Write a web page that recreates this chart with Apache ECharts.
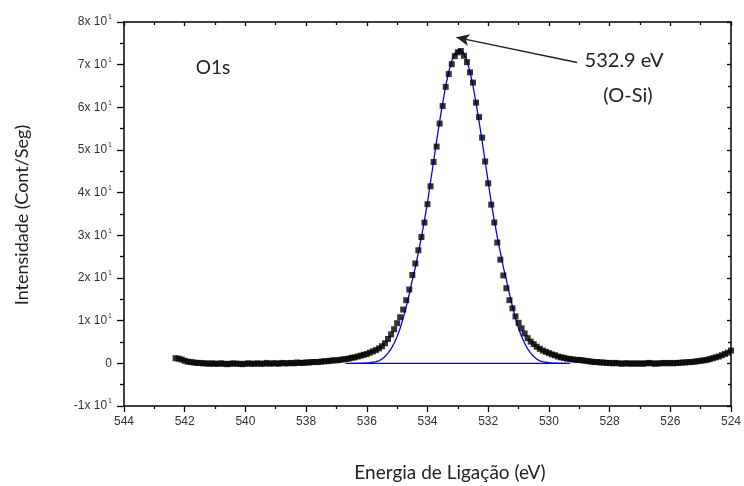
<!DOCTYPE html>
<html><head><meta charset="utf-8">
<script src="https://cdn.jsdelivr.net/npm/echarts@6/dist/echarts.min.js"></script>
<style>html,body{margin:0;padding:0;background:#fff}#c{width:744px;height:486px}</style>
</head><body><div id="c"></div>
<script>
// Measured spectrum (binding energy in eV, intensity in units of 10 cont/s)
const energyEV = [
  542.3,542.2,542.1,542.0,541.9,541.8,541.7,541.6,541.5,541.4,
  541.3,541.2,541.1,541.0,540.9,540.8,540.7,540.6,540.5,540.4,
  540.3,540.2,540.1,540.0,539.9,539.8,539.7,539.6,539.5,539.4,
  539.3,539.2,539.1,539.0,538.9,538.8,538.7,538.6,538.5,538.4,
  538.3,538.2,538.1,538.0,537.9,537.8,537.7,537.6,537.5,537.4,
  537.3,537.2,537.1,537.0,536.9,536.8,536.7,536.6,536.5,536.4,
  536.3,536.2,536.1,536.0,535.9,535.8,535.7,535.6,535.5,535.4,
  535.3,535.2,535.1,535.0,534.9,534.8,534.7,534.6,534.5,534.4,
  534.3,534.2,534.1,534.0,533.9,533.8,533.7,533.6,533.5,533.4,
  533.3,533.2,533.1,533.0,532.9,532.8,532.7,532.6,532.5,532.4,
  532.3,532.2,532.1,532.0,531.9,531.8,531.7,531.6,531.5,531.4,
  531.3,531.2,531.1,531.0,530.9,530.8,530.7,530.6,530.5,530.4,
  530.3,530.2,530.1,530.0,529.9,529.8,529.7,529.6,529.5,529.4,
  529.3,529.2,529.1,529.0,528.9,528.8,528.7,528.6,528.5,528.4,
  528.3,528.2,528.1,528.0,527.9,527.8,527.7,527.6,527.5,527.4,
  527.3,527.2,527.1,527.0,526.9,526.8,526.7,526.6,526.5,526.4,
  526.3,526.2,526.1,526.0,525.9,525.8,525.7,525.6,525.5,525.4,
  525.3,525.2,525.1,525.0,524.9,524.8,524.7,524.6,524.5,524.4,
  524.3,524.2,524.1,524.0
];
const intensity = [
  1.2,1.1,0.9,0.6,0.4,0.3,0.2,0.1,0.1,0.0,
  0.0,-0.1,0.0,-0.1,-0.1,0.0,-0.1,-0.2,-0.1,0.0,
  -0.1,-0.1,-0.2,-0.1,0.0,-0.1,-0.1,0.0,-0.1,-0.1,
  0.1,-0.1,0.0,0.0,-0.1,0.1,0.0,0.0,0.1,0.0,
  0.2,0.1,0.1,0.2,0.2,0.3,0.3,0.3,0.4,0.5,
  0.5,0.6,0.7,0.7,0.8,0.9,1.0,1.1,1.3,1.4,
  1.6,1.8,2.0,2.2,2.5,2.8,3.1,3.5,4.0,4.7,
  5.7,6.8,8.0,9.4,10.8,12.6,14.8,17.3,20.7,23.4,
  26.5,29.6,33.0,37.3,41.5,47.2,50.8,56.2,60.3,64.8,
  67.8,70.1,72.0,72.9,73.2,72.1,70.6,68.2,65.8,61.1,
  57.7,52.9,47.3,42.2,37.2,33.0,28.3,24.3,20.6,17.6,
  14.8,12.9,11.0,9.5,8.2,7.0,5.9,5.1,4.5,3.9,
  3.4,3.0,2.7,2.4,2.1,1.9,1.6,1.4,1.3,1.1,
  1.0,0.9,0.8,0.8,0.7,0.6,0.5,0.4,0.3,0.3,
  0.2,0.2,0.1,0.1,0.0,0.1,0.0,-0.1,0.0,0.0,
  -0.1,0.0,-0.1,0.0,-0.1,0.0,0.1,0.0,-0.1,0.0,
  0.0,0.1,0.0,0.1,0.0,0.1,0.1,0.2,0.2,0.3,
  0.3,0.4,0.5,0.6,0.7,0.8,1.0,1.2,1.4,1.6,
  1.9,2.2,2.5,3.0
];
// Fitted O1s component (blue)
const fitEnergy = [
  536.5,536.4,536.3,536.2,536.1,536.0,535.9,535.8,535.7,535.6,
  535.5,535.4,535.3,535.2,535.1,535.0,534.9,534.8,534.7,534.6,
  534.5,534.4,534.3,534.2,534.1,534.0,533.9,533.8,533.7,533.6,
  533.5,533.4,533.3,533.2,533.1,533.0,532.9,532.8,532.7,532.6,
  532.5,532.4,532.3,532.2,532.1,532.0,531.9,531.8,531.7,531.6,
  531.5,531.4,531.3,531.2,531.1,531.0,530.9,530.8,530.7,530.6,
  530.5,530.4,530.3,530.2,530.1,530.0,529.9,529.8,529.7,529.6,
  529.5,529.4
];
const fitIntensity = [
  0,0,0.01,0.02,0.04,0.08,0.15,0.25,0.4,0.6,
  1.0,1.6,2.4,3.4,4.7,6.3,8.2,10.6,13.3,16.3,
  19.5,22.5,26.0,29.6,33.5,37.7,42.5,47.3,52.1,56.7,
  61.0,65.0,68.3,70.9,72.6,73.4,73.4,72.6,70.9,68.3,
  65.0,61.0,56.7,52.1,47.3,42.5,37.7,33.5,29.6,26.0,
  22.5,19.5,16.3,13.3,10.6,8.2,6.3,4.7,3.4,2.4,
  1.6,1.0,0.6,0.4,0.25,0.15,0.08,0.04,0.02,0.01,
  0,0
];
const baselineEnergy = [536.7, 529.3];
const baselineIntensity = [0, 0];
const peakLabel = ['532.9 eV', '(O-Si)'];
const arrowTail = [529.07, 70.5];
const arrowTip = [533.05, 76.4];

const zip = (a, b) => a.map((v, i) => [v, b[i]]);
const chart = echarts.init(document.getElementById('c'), null, {renderer: 'canvas'});
const axisBlack = {onZero: false, lineStyle: {color: '#000', width: 1.5}};
const xBase = {type: 'value', min: 524, max: 544, interval: 2, inverse: true, splitLine: {show: false}};
const yBase = {type: 'value', min: -10, max: 80, interval: 10, splitLine: {show: false}};
chart.setOption({
  animation: false,
  backgroundColor: '#fff',
  grid: {left: 124, right: 11, top: 22, bottom: 80, containLabel: false},
  xAxis: [
    Object.assign({}, xBase, {
      position: 'bottom', axisLine: axisBlack,
      axisTick: {length: 6, lineStyle: {color: '#000', width: 1.3}},
      minorTick: {show: true, splitNumber: 2, length: 3, lineStyle: {color: '#000', width: 1.3}},
      axisLabel: {fontFamily: 'Liberation Sans', fontSize: 12, color: '#333', margin: 10}
    }),
    Object.assign({}, xBase, {
      position: 'top', axisLine: axisBlack,
      axisTick: {inside: true, length: 4, lineStyle: {color: '#000', width: 1.3}},
      minorTick: {show: true, splitNumber: 2, length: 3, lineStyle: {color: '#000', width: 1.3}},
      axisLabel: {show: false}
    })
  ],
  yAxis: [
    Object.assign({}, yBase, {
      position: 'left', axisLine: axisBlack,
      axisTick: {length: 7, lineStyle: {color: '#000', width: 1.3}},
      minorTick: {show: true, splitNumber: 2, length: 4, lineStyle: {color: '#000', width: 1.3}},
      axisLabel: {
        margin: 12,
        formatter: v => v === 0 ? '{m|0}' : '{m|' + (v / 10) + 'x 10}{s|1}',
        rich: {
          m: {fontFamily: 'Liberation Sans', fontSize: 12, color: '#333'},
          s: {fontFamily: 'Liberation Sans', fontSize: 7, color: '#333', padding: [0, 0, 9, 1]}
        }
      }
    }),
    Object.assign({}, yBase, {
      position: 'right', axisLine: axisBlack,
      axisTick: {inside: true, length: 4, lineStyle: {color: '#000', width: 1.3}},
      minorTick: {show: true, splitNumber: 2, length: 3, lineStyle: {color: '#000', width: 1.3}},
      axisLabel: {show: false}
    })
  ],
  series: [
    {
      name: 'fit', type: 'line', xAxisIndex: 0, yAxisIndex: 0, z: 2,
      data: zip(fitEnergy, fitIntensity), showSymbol: false, symbol: 'none',
      lineStyle: {color: '#0000ff', width: 1.3}
    },
    {
      name: 'baseline', type: 'line', xAxisIndex: 0, yAxisIndex: 0, z: 2,
      data: zip(baselineEnergy, baselineIntensity), showSymbol: false, symbol: 'none',
      lineStyle: {color: '#0000ff', width: 1.3},
      markLine: {
        silent: true, symbol: ['none', 'arrow'], symbolSize: [9, 13],
        lineStyle: {color: '#222', width: 1.5, type: 'solid'},
        label: {show: false},
        data: [[{coord: arrowTail}, {coord: arrowTip}]]
      }
    },
    {
      name: 'O1s', type: 'scatter', xAxisIndex: 0, yAxisIndex: 0, z: 3,
      data: zip(energyEV, intensity), symbol: 'rect', symbolSize: 6,
      itemStyle: {color: '#000'}
    }
  ],
  graphic: [
    {type: 'text', x: 213, y: 68, style: {text: 'O1s', font: '19px Lato', fill: '#222', align: 'center', verticalAlign: 'middle'}},
    {type: 'text', x: 624, y: 61, style: {text: peakLabel[0], font: '20px Lato', fill: '#222', align: 'center', verticalAlign: 'middle'}},
    {type: 'text', x: 628, y: 96, style: {text: peakLabel[1], font: '20px Lato', fill: '#222', align: 'center', verticalAlign: 'middle'}},
    {type: 'text', x: 450, y: 473, style: {text: 'Energia de Ligação (eV)', font: '19px Lato', fill: '#222', align: 'center', verticalAlign: 'middle'}},
    {type: 'text', x: 22, y: 215, rotation: Math.PI / 2, style: {text: 'Intensidade (Cont/Seg)', font: '18px Lato', fill: '#222', align: 'center', verticalAlign: 'middle'}}
  ]
});
</script>
</body></html>
